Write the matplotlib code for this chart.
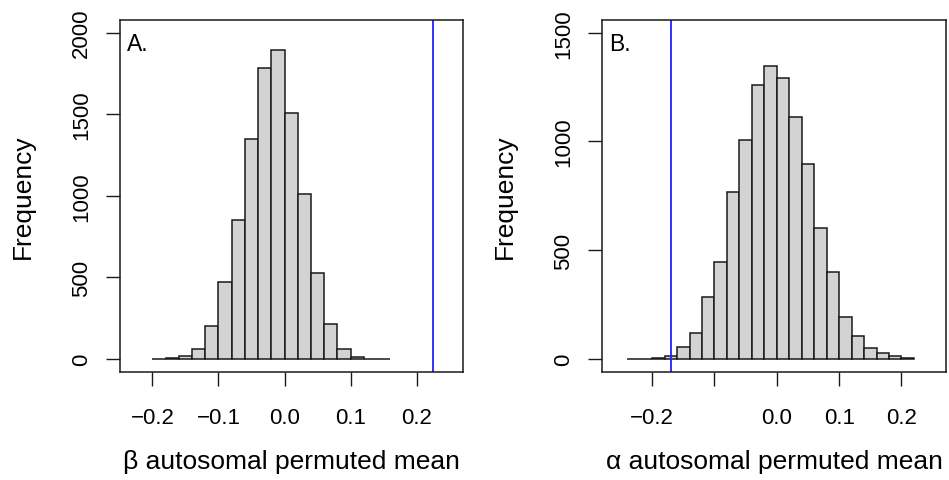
"""plot.py — permutation null distributions of autosomal means (beta / alpha).

Two histograms side by side, each with the observed value as a blue line.
"""
import matplotlib
matplotlib.use("Agg")
import matplotlib.pyplot as plt
import numpy as np

plt.rcParams["font.family"] = ["Liberation Sans", "DejaVu Sans"]

# ---- panel A: beta ----
beta_edges = [-0.20, -0.18, -0.16, -0.14, -0.12, -0.10, -0.08, -0.06, -0.04, -0.02,
              0.00, 0.02, 0.04, 0.06, 0.08, 0.10, 0.12, 0.14, 0.16]
beta_counts = [1, 6, 18, 59, 202, 473, 854, 1350, 1782, 1894,
               1511, 1011, 530, 216, 59, 10, 2, 1]
beta_observed = 0.224
beta_xticks = [-0.2, -0.1, 0.0, 0.1, 0.2]
beta_xlabels = ["\u22120.2", "\u22120.1", "0.0", "0.1", "0.2"]
beta_yticks = [0, 500, 1000, 1500, 2000]

# ---- panel B: alpha ----
alpha_edges = [-0.24, -0.22, -0.20, -0.18, -0.16, -0.14, -0.12, -0.10, -0.08, -0.06,
               -0.04, -0.02, 0.00, 0.02, 0.04, 0.06, 0.08, 0.10, 0.12, 0.14,
               0.16, 0.18, 0.20, 0.22]
alpha_counts = [1, 2, 5, 14, 55, 118, 287, 445, 769, 1009,
                1261, 1346, 1294, 1113, 898, 604, 398, 194, 104, 50,
                28, 14, 5]
alpha_observed = -0.170
alpha_xticks = [-0.2, -0.1, 0.0, 0.1, 0.2]
alpha_xlabels = ["\u22120.2", "", "0.0", "0.1", "0.2"]
alpha_yticks = [0, 500, 1000, 1500]

W, H = 949, 481


def draw(ax, edges, counts, observed, xticks, xlabels, yticks, xlim, ylim,
         tag, xlabel):
    edges = np.asarray(edges)
    ax.bar(edges[:-1], counts, width=np.diff(edges), align="edge",
           color="#d3d3d3", edgecolor="#1a1a1a", linewidth=1.1)
    ax.axvline(observed, color="#2020ff", lw=1.3)

    ax.set_xlim(*xlim)
    ax.set_ylim(*ylim)
    ax.set_xticks(xticks)
    ax.set_xticklabels(xlabels)
    ax.set_yticks(yticks)
    ax.set_yticklabels([str(t) for t in yticks], rotation=90, va="center")
    ax.tick_params(direction="out", length=10, width=1.0, labelsize=16,
                   color="#1a1a1a")
    ax.tick_params(axis="x", pad=15)
    ax.tick_params(axis="y", pad=10)
    for sp in ax.spines.values():
        sp.set_linewidth(1.1)
        sp.set_color("#1a1a1a")

    ax.text(0.02, 0.965, tag, transform=ax.transAxes, fontsize=16.5,
            ha="left", va="top")
    ax.set_xlabel(xlabel, fontsize=19)
    ax.xaxis.set_label_coords(0.5, -0.218)
    ax.set_ylabel("Frequency", fontsize=19, va="center")
    ax.yaxis.set_label_coords(-97 / 343, 0.5)


fig = plt.figure(figsize=(W / 100, H / 100), dpi=100)
ax_a = fig.add_axes([120 / W, 108 / H, 343 / W, 352.3 / H])
ax_b = fig.add_axes([602.3 / W, 108 / H, 343.4 / W, 352.3 / H])

draw(ax_a, beta_edges, beta_counts, beta_observed, beta_xticks, beta_xlabels,
     beta_yticks, (-0.249, 0.270), (-80, 2080), "A.", "\u03b2 autosomal permuted mean")
draw(ax_b, alpha_edges, alpha_counts, alpha_observed, alpha_xticks, alpha_xlabels,
     alpha_yticks, (-0.280, 0.271), (-60, 1560), "B.", "\u03b1 autosomal permuted mean")

fig.savefig("out.png", dpi=100)
